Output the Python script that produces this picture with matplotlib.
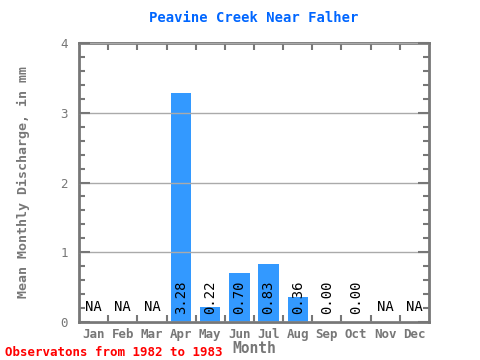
import matplotlib.pyplot as plt
import numpy as np
from matplotlib.ticker import MultipleLocator

months = ['Jan', 'Feb', 'Mar', 'Apr', 'May', 'Jun', 'Jul', 'Aug', 'Sep', 'Oct', 'Nov', 'Dec']
values = [None, None, None, 3.28, 0.22, 0.70, 0.83, 0.36, 0.00, 0.00, None, None]

mono = 'DejaVu Sans Mono'
grey = '#777777'

fig = plt.figure(figsize=(4.8, 3.6), dpi=100)
ax = fig.add_axes([79/480, 1-322/360, 350/480, 279/360])

x = np.arange(len(months))
h = [v if v is not None else 0 for v in values]
ax.bar(x, h, width=0.7, color='#3399ff', zorder=1)

for xi, v in zip(x, values):
    if v is None:
        ax.text(xi, 0.12, 'NA', ha='center', va='bottom', fontsize=10, family=mono, zorder=3)
    else:
        ax.text(xi, 0.12, f'{v:.2f}', ha='center', va='bottom', rotation=90,
                fontsize=10, family=mono, zorder=3)

ax.set_xlim(-0.5, 11.5)
ax.set_ylim(0, 4)
ax.set_xticks(x)
ax.set_xticklabels(months, family=mono, fontsize=9, color=grey, fontweight='bold')
ax.set_xticks(np.arange(0.5, 11.5, 1), minor=True)
ax.tick_params(axis='x', which='major', length=0, pad=4)
ax.tick_params(axis='x', which='minor', length=5, width=1.5, color=grey,
               direction='in', top=True, bottom=True)

ax.set_yticks([0, 1, 2, 3, 4])
ax.set_yticklabels(['0', '1', '2', '3', '4'], family=mono, fontsize=9, color=grey)
ax.yaxis.set_minor_locator(MultipleLocator(0.2))
ax.tick_params(axis='y', which='both', direction='in', left=True, right=True,
               color=grey, width=1.5)
ax.tick_params(axis='y', which='major', length=8, pad=8)
ax.tick_params(axis='y', which='minor', length=4)

ax.grid(axis='y', which='major', color='#aaaaaa', linewidth=1, zorder=2)
ax.set_axisbelow(False)
for s in ax.spines.values():
    s.set_color(grey)
    s.set_linewidth(2)

ax.set_title('Peavine Creek Near Falher', family=mono, fontsize=10, color='#0066ff',
             fontweight='bold', pad=15)
ax.set_xlabel('Month', family=mono, fontsize=10.5, color=grey, fontweight='bold', labelpad=0)
ax.set_ylabel('Mean Monthly Discharge, in mm', family=mono, fontsize=9.5, color=grey,
              fontweight='bold', labelpad=22)
fig.text(5/480, 1-352/360, 'Observatons from 1982 to 1983', family=mono, fontsize=9,
         color='#ff0000', fontweight='bold', va='center')

fig.savefig('out.png', dpi=100)
